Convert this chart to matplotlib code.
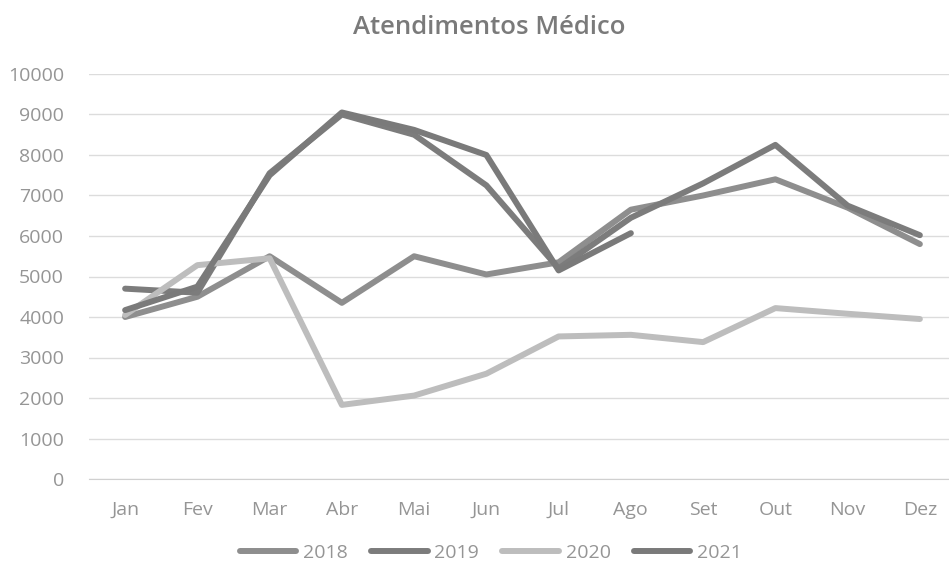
import matplotlib.pyplot as plt
import numpy as np

# dados
meses = ['Jan', 'Fev', 'Mar', 'Abr', 'Mai', 'Jun', 'Jul', 'Ago', 'Set', 'Out', 'Nov', 'Dez']
at_2018 = [4000, 4500, 5500, 4350, 5500, 5050, 5350, 6650, 7000, 7400, 6700, 5800]
at_2019 = [4700, 4600, 7550, 9000, 8500, 7250, 5200, 6450, 7300, 8250, 6750, 6020]
at_2020 = [4050, 5280, 5450, 1830, 2060, 2600, 3520, 3560, 3380, 4220, 4080, 3950]
at_2021 = [4170, 4750, 7500, 9050, 8620, 8000, 5150, 6070]

plt.rcParams['font.family'] = ['Open Sans', 'DejaVu Sans']
txt = '#959595'

fig = plt.figure(figsize=(9.49, 5.68), dpi=100)
ax = fig.add_axes([89 / 949, 89 / 568, (956 - 89) / 949, 405 / 568])

x = np.arange(len(meses))
estilo = dict(lw=4.3, solid_capstyle='round', solid_joinstyle='round')
ax.plot(x, at_2018, color='#8e8e8e', label='2018', **estilo)
ax.plot(x, at_2019, color='#7c7c7c', label='2019', **estilo)
ax.plot(x, at_2020, color='#bdbdbd', label='2020', **estilo)
ax.plot(x[:len(at_2021)], at_2021, color='#7a7a7a', label='2021', **estilo)

ax.set_xlim(-0.5, 11.5)
ax.set_ylim(0, 10000)
ax.set_xticks(x)
ax.set_xticklabels(meses)
ax.set_yticks(np.arange(0, 10001, 1000))
ax.grid(axis='y', color='#dcdcdc', lw=1)
ax.set_axisbelow(True)
for s in ['top', 'right', 'left']:
    ax.spines[s].set_visible(False)
ax.spines['bottom'].set_color('#d0d0d0')
ax.tick_params(axis='both', length=0, labelsize=14, labelcolor=txt)
ax.tick_params(axis='y', pad=18)
ax.tick_params(axis='x', pad=16)

fig.text(489 / 949, 1 - 28 / 568, 'Atendimentos Médico', ha='center', va='center',
         fontsize=18.5, fontweight='semibold', color='#7a7a7a')

fig.legend(loc='center', bbox_to_anchor=(491 / 949, 1 - 553 / 568), ncol=4, frameon=False,
           fontsize=14, labelcolor=txt, handlelength=2.9, handletextpad=0.35,
           columnspacing=1.2)

fig.savefig('out.png', dpi=100)
